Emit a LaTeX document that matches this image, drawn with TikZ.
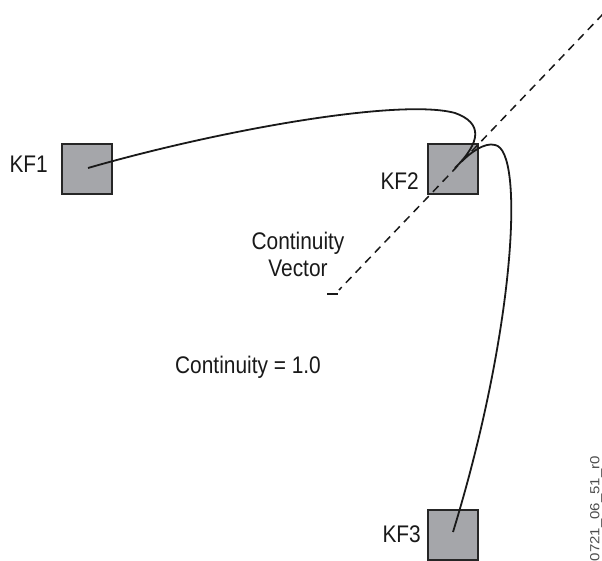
\documentclass[tikz,border=0pt]{standalone}
\usepackage{fontspec}
\setmainfont{Liberation Sans}
\begin{document}
\begin{tikzpicture}[x=1pt,y=-1pt,
  kfbox/.style={draw=black!85,line width=2pt,fill=boxgray,minimum size=50pt,inner sep=0pt},
  lbl/.style={font=\fontsize{24}{27}\selectfont,xscale=0.87,text=black!90,inner sep=0pt},
  curve/.style={line width=1.8pt,black!90},
  vec/.style={line width=1.5pt,dash pattern=on 8pt off 6pt,black!90}]
\definecolor{boxgray}{HTML}{A5A6AA}
\useasboundingbox (0,0) rectangle (602,561);
\node[kfbox] (kf1) at (87,169) {};
\node[kfbox] (kf2) at (453,169.5) {};
\node[kfbox] (kf3) at (453,534.5) {};
\node[lbl,anchor=east] (l1) at (48,164) {KF1};
\node[lbl,anchor=east] (l2) at (419,181) {KF2};
\node[lbl,anchor=east] (l3) at (421,534) {KF3};
\node[lbl,align=center] (cv) at (298,254) {Continuity\\Vector};
\node[lbl] (ce) at (248,367) {Continuity = 1.0};
\node[font=\fontsize{15}{15}\selectfont,xscale=0.88,rotate=90,anchor=east,text=black!70,inner sep=0pt] (id) at (596,456) {0721\_06\_51\_r0};
\coordinate (vtop) at (603,14);
\coordinate (vbot) at (339,290);
\coordinate (c) at (455,168);
\coordinate (a) at (88,168);
\coordinate (b) at (453,532);
\draw[vec] (vtop) -- (vbot);
\coordinate (m1) at (327,294);
\coordinate (m2) at (338,294);
\draw[line width=1.5pt,black!90] (m1) -- (m2);
\draw[curve] (a) .. controls (220,130) and (400,98) .. (455,113)
  .. controls (483,123) and (481,142) .. (c)
  .. controls (470,152) and (485,142) .. (495,145)
  .. controls (525,150) and (515,330) .. (b);
\end{tikzpicture}
\end{document}
